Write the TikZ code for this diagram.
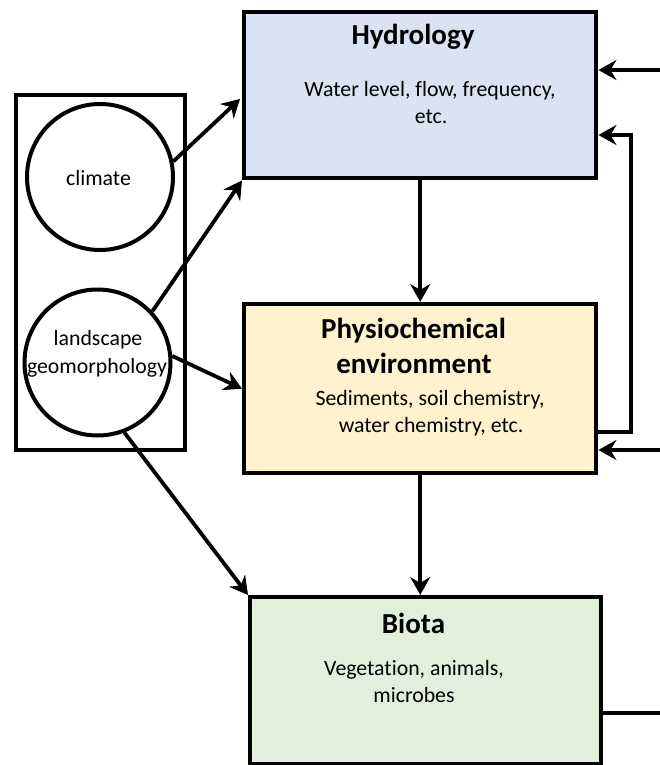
\documentclass[tikz,border=0pt]{standalone}
\usepackage{fontspec}
\setmainfont[Ligatures=NoCommon]{Carlito}
\usetikzlibrary{arrows.meta,calc}
\definecolor{hydfill}{HTML}{DAE3F3}
\definecolor{phyfill}{HTML}{FFF2CC}
\definecolor{biofill}{HTML}{E2EFDA}
\begin{document}
\begin{tikzpicture}[x=1pt,y=-1pt,
  box/.style={draw,line width=4.4pt,inner sep=0pt,anchor=north west},
  circ/.style={draw,circle,line width=4pt,inner sep=0pt,minimum size=146pt},
  arr/.style={line width=3.8pt,-{Stealth[length=18pt,width=20pt,inset=6pt]}},
  ln/.style={line width=3.8pt},
  ttl/.style={font=\fontsize{29}{35}\selectfont\bfseries,anchor=base,inner sep=0pt},
  txt/.style={font=\fontsize{21.8}{27}\selectfont,anchor=base,inner sep=0pt}]
\useasboundingbox (0,0) rectangle (660,765);
% boxes
\node[box,fill=hydfill,minimum width=352pt,minimum height=166pt] (hyd) at (242,10) {};
\node[box,fill=phyfill,minimum width=352pt,minimum height=169pt] (phys) at (242,302) {};
\node[box,fill=biofill,minimum width=351pt,minimum height=167pt] (bio) at (248,595) {};
\node[box,line width=4pt,minimum width=169pt,minimum height=355pt] (left) at (14,93) {};
\node[circ] (clim) at (100,177) {};
\node[circ] (land) at (97.5,362.5) {};
% texts
\node[ttl] (hydT) at (413,45) {Hydrology};
\node[txt] (hydA) at (430,97) {Water level, flow, frequency,};
\node[txt] (hydB) at (431,124) {etc.};
\node[ttl] (phyT1) at (413.5,338) {Physiochemical};
\node[ttl] (phyT2) at (414,373) {environment};
\node[txt] (phyA) at (430,405) {Sediments, soil chemistry,};
\node[txt] (phyB) at (431,432) {water chemistry, etc.};
\node[ttl] (bioT) at (413.5,633) {Biota};
\node[txt] (bioA) at (414,675) {Vegetation, animals,};
\node[txt] (bioB) at (414,702) {microbes};
\node[txt] (climT) at (98.5,185) {climate};
\node[txt] (landA) at (98,345) {landscape};
\node[txt] (landB) at (97,373) {geomorphology};
% connectors
\coordinate (h1) at (240,99);
\draw[arr] (clim.12) -- (h1);
\draw[arr] (land.43) -- (hyd.south west);
\draw[arr] (land.5) -- (phys.west);
\draw[arr] (land.-69) -- (bio.north west);
\draw[arr] (hyd.south) -- (phys.north);
\draw[arr] (phys.south) -- (phys.south |- bio.north);
\coordinate (r1) at (660,70);
\draw[arr] (r1) -- (r1 -| hyd.east);
\coordinate (fbA) at (631,432);
\coordinate (fbB) at (631,135);
\draw[arr] (fbA -| phys.east) -- (fbA) -- (fbB) -- (fbB -| hyd.east);
\coordinate (r2) at (660,450);
\draw[arr] (r2) -- (r2 -| phys.east);
\coordinate (r3) at (660,713);
\draw[ln] (bio.east |- r3) -- (r3);
\end{tikzpicture}
\end{document}
